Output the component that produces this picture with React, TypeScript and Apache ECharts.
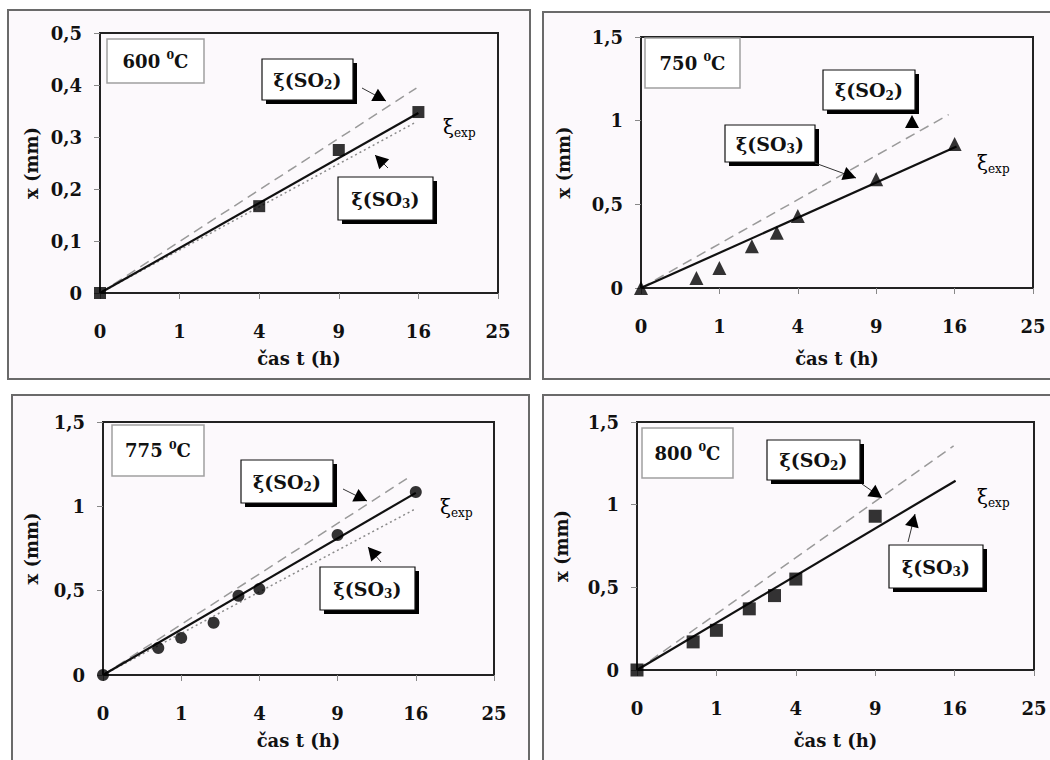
import React, { useEffect, useRef } from "react";
import * as echarts from "echarts";

// ---- data (time t in hours, thickness x in mm) ----
const tickT = [0, 1, 4, 9, 16, 25];

const t600 = [0, 4, 9, 16];
const x600 = [0, 0.167, 0.275, 0.348];
const t750 = [0, 0.5, 1, 2, 3, 4, 9, 16];
const x750 = [0, 0.06, 0.12, 0.25, 0.33, 0.43, 0.65, 0.86];
const t775 = [0, 0.5, 1, 2, 3, 4, 9, 16];
const x775 = [0, 0.16, 0.22, 0.31, 0.47, 0.51, 0.83, 1.085];
const t800 = [0, 0.5, 1, 2, 3, 4, 9];
const x800 = [0, 0.17, 0.24, 0.37, 0.45, 0.55, 0.93];

// model lines, endpoints [t, x]
const exp600 = [[0, 0], [16, 0.346]];
const so2_600 = [[0, 0], [15.8, 0.394]];
const so3_600 = [[0, 0], [15.8, 0.329]];
const exp750 = [[0, 0], [16.2, 0.845]];
const so2_750 = [[0, 0], [15.4, 1.036]];
const exp775 = [[0, 0], [16, 1.08]];
const so2_775 = [[0, 0], [15.1, 1.164]];
const so3_775 = [[0, 0], [16, 0.986]];
const exp800 = [[0, 0], [16.1, 1.145]];
const so2_800 = [[0, 0], [15.9, 1.355]];

const temps = ["600", "750", "775", "800"];

const FONT = "DejaVu Serif";

type Panel = {
  grid: { left: number; top: number; width: number; height: number };
  yMax: number;
  yInt: number;
  xGap: number;
  yGap: number;
  frame: number[];
  t: number[];
  x: number[];
  symbol: string;
  symbolSize: number;
  exp: number[][];
  so2: number[][];
  so3: number[][] | null;
  tempBox: number[];
  so2Box: number[];
  so3Box: number[];
  arrows: { tail: number[]; head: number[]; line: boolean }[];
  expPos: number[];
};

const panels: Panel[] = [
  {
    grid: { left: 100, top: 33, width: 398, height: 260 },
    yMax: 0.5, yInt: 0.1, xGap: 56, yGap: 60,
    frame: [8, 10, 522, 369],
    t: t600, x: x600, symbol: "rect", symbolSize: 12,
    exp: exp600, so2: so2_600, so3: so3_600,
    tempBox: [107, 39, 97, 44],
    so2Box: [262, 59, 91, 41],
    so3Box: [338, 177, 95, 43],
    arrows: [
      { tail: [362, 88], head: [386, 101], line: true },
      { tail: [388, 168], head: [375, 155], line: true },
    ],
    expPos: [443, 127],
  },
  {
    grid: { left: 641, top: 37, width: 392, height: 251 },
    yMax: 1.5, yInt: 0.5, xGap: 61, yGap: 69,
    frame: [543, 12, 520, 367],
    t: t750, x: x750, symbol: "triangle", symbolSize: 14,
    exp: exp750, so2: so2_750, so3: null,
    tempBox: [645, 38, 95, 50],
    so2Box: [823, 70, 92, 40],
    so3Box: [725, 125, 90, 37],
    arrows: [
      { tail: [912, 133], head: [912, 115], line: false },
      { tail: [815, 163], head: [856, 178], line: true },
    ],
    expPos: [977, 163],
  },
  {
    grid: { left: 103, top: 422, width: 391, height: 253 },
    yMax: 1.5, yInt: 0.5, xGap: 56, yGap: 63,
    frame: [12, 395, 517, 380],
    t: t775, x: x775, symbol: "circle", symbolSize: 12,
    exp: exp775, so2: so2_775, so3: so3_775,
    tempBox: [112, 425, 92, 51],
    so2Box: [241, 460, 92, 43],
    so3Box: [320, 567, 95, 43],
    arrows: [
      { tail: [343, 489], head: [367, 501], line: true },
      { tail: [381, 562], head: [368, 547], line: true },
    ],
    expPos: [440, 507],
  },
  {
    grid: { left: 637, top: 422, width: 397, height: 248 },
    yMax: 1.5, yInt: 0.5, xGap: 61, yGap: 67,
    frame: [543, 395, 520, 380],
    t: t800, x: x800, symbol: "rect", symbolSize: 13,
    exp: exp800, so2: so2_800, so3: null,
    tempBox: [642, 428, 91, 50],
    so2Box: [767, 440, 93, 40],
    so3Box: [889, 545, 94, 43],
    arrows: [
      { tail: [862, 484], head: [882, 498], line: true },
      { tail: [908, 542], head: [915, 514], line: true },
    ],
    expPos: [977, 497],
  },
];

const toXY = (pts: number[][]) => pts.map(([t, v]) => [Math.sqrt(t), v]);

const yFmt = (v: number) => String(+v.toFixed(2)).replace(".", ",");
const xFmt = (v: number) => String(Math.round(v * v));

function boxText(text: string, rich: any, cx: number, cy: number) {
  return {
    type: "text",
    x: cx,
    y: cy,
    z: 30,
    style: { text, rich, align: "center", verticalAlign: "middle", fill: "#111" },
  };
}

function arrowHead(tail: number[], head: number[]) {
  const dx = head[0] - tail[0];
  const dy = head[1] - tail[1];
  const len = Math.hypot(dx, dy) || 1;
  const ux = dx / len, uy = dy / len;
  const L = 13, W = 7;
  const bx = head[0] - ux * L, by = head[1] - uy * L;
  return [
    [head[0], head[1]],
    [bx - uy * W, by + ux * W],
    [bx + uy * W, by - ux * W],
  ];
}

export default function App() {
  const ref = useRef<HTMLDivElement>(null);
  useEffect(() => {
    if (!ref.current) return;
    const chart = echarts.init(ref.current, undefined, { renderer: "svg" });

    const grids: any[] = [];
    const xAxes: any[] = [];
    const yAxes: any[] = [];
    const series: any[] = [];
    const graphic: any[] = [];

    const subRich = {
      n: { fontFamily: FONT, fontSize: 19, fontWeight: "bold", lineHeight: 23, color: "#111" },
      s: { fontFamily: FONT, fontSize: 12, fontWeight: "bold", lineHeight: 14, verticalAlign: "bottom", color: "#111" },
    };
    const supRich = {
      n: { fontFamily: FONT, fontSize: 18, fontWeight: "bold", lineHeight: 22, color: "#111" },
      s: { fontFamily: FONT, fontSize: 11, fontWeight: "bold", lineHeight: 11, verticalAlign: "top", color: "#111" },
    };
    const expRich = {
      n: { fontFamily: FONT, fontSize: 20, lineHeight: 24, color: "#222" },
      s: { fontFamily: FONT, fontSize: 12, lineHeight: 14, verticalAlign: "bottom", color: "#222" },
    };

    panels.forEach((p, i) => {
      grids.push({ ...p.grid, show: true, borderColor: "#222", borderWidth: 2, backgroundColor: "transparent" });
      xAxes.push({
        type: "value", gridIndex: i, min: 0, max: 5, interval: 1,
        name: "čas t (h)", nameLocation: "middle", nameGap: p.xGap,
        nameTextStyle: { fontFamily: FONT, fontWeight: "bold", fontSize: 18, color: "#111" },
        axisLine: { show: true, lineStyle: { color: "#222", width: 2 } },
        axisTick: { show: true, length: 6, lineStyle: { color: "#888" } },
        splitLine: { show: false },
        axisLabel: { formatter: xFmt, margin: 29, fontFamily: FONT, fontWeight: "bold", fontSize: 18, color: "#111" },
      });
      yAxes.push({
        type: "value", gridIndex: i, min: 0, max: p.yMax, interval: p.yInt,
        name: "x (mm)", nameLocation: "middle", nameGap: p.yGap, nameRotate: 90,
        nameTextStyle: { fontFamily: FONT, fontWeight: "bold", fontSize: 18, color: "#111" },
        axisLine: { show: true, lineStyle: { color: "#222", width: 2 } },
        axisTick: { show: true, length: 6, lineStyle: { color: "#888" } },
        splitLine: { show: false },
        axisLabel: { formatter: yFmt, margin: 18, fontFamily: FONT, fontWeight: "bold", fontSize: 18, color: "#111" },
      });
      series.push({
        type: "line", xAxisIndex: i, yAxisIndex: i, data: toXY(p.so2), showSymbol: false, symbol: "none",
        lineStyle: { color: "#9a9a9a", width: 1.5, type: [10, 6] }, z: 2, silent: true,
      });
      if (p.so3) {
        series.push({
          type: "line", xAxisIndex: i, yAxisIndex: i, data: toXY(p.so3), showSymbol: false, symbol: "none",
          lineStyle: { color: "#8a8a8a", width: 1.5, type: [2, 3] }, z: 2, silent: true,
        });
      }
      series.push({
        type: "line", xAxisIndex: i, yAxisIndex: i, data: toXY(p.exp), showSymbol: false, symbol: "none",
        lineStyle: { color: "#111", width: 2.2 }, z: 3, silent: true,
      });
      series.push({
        type: "scatter", xAxisIndex: i, yAxisIndex: i,
        data: p.t.map((t, k) => [Math.sqrt(t), p.x[k]]),
        symbol: p.symbol, symbolSize: p.symbolSize,
        itemStyle: { color: "#000" }, z: 4, silent: true,
      });

      // frame
      const [fx, fy, fw, fh] = p.frame;
      graphic.push({
        type: "rect", z: -1, shape: { x: fx, y: fy, width: fw, height: fh },
        style: { fill: "#fcf9fc", stroke: "#6a6a6a", lineWidth: 2 },
      });
      // temperature box
      const [tx, ty, tw, th] = p.tempBox;
      graphic.push({
        type: "rect", z: 20, shape: { x: tx, y: ty, width: tw, height: th },
        style: { fill: "#ffffff", stroke: "#a0a0a0", lineWidth: 1.5 },
      });
      graphic.push(boxText(`{n|${temps[i]} }{s|0}{n|C}`, supRich, tx + tw / 2, ty + th / 2));
      // SO2 / SO3 boxes
      const boxes = [
        [p.so2Box, "2"],
        [p.so3Box, "3"],
      ] as const;
      boxes.forEach(([b, sub]) => {
        const [bx, by, bw, bh] = b as number[];
        graphic.push({
          type: "rect", z: 20, shape: { x: bx + 4, y: by + 4, width: bw, height: bh },
          style: { fill: "#000" },
        });
        graphic.push({
          type: "rect", z: 21, shape: { x: bx, y: by, width: bw, height: bh },
          style: { fill: "#ffffff", stroke: "#111", lineWidth: 1.2 },
        });
        graphic.push(boxText(`{n|ξ(SO}{s|${sub}}{n|)}`, subRich, bx + bw / 2, by + bh / 2));
      });
      // arrows
      p.arrows.forEach((a) => {
        if (a.line) {
          graphic.push({
            type: "line", z: 22,
            shape: { x1: a.tail[0], y1: a.tail[1], x2: a.head[0], y2: a.head[1] },
            style: { stroke: "#333", lineWidth: 1 },
          });
        }
        graphic.push({
          type: "polygon", z: 23,
          shape: { points: arrowHead(a.tail, a.head) },
          style: { fill: "#000" },
        });
      });
      // ξexp label
      graphic.push({
        type: "text", x: p.expPos[0], y: p.expPos[1], z: 30,
        style: { text: "{n|ξ}{s|exp}", rich: expRich, align: "left", verticalAlign: "middle" },
      });
    });

    chart.setOption({
      animation: false,
      backgroundColor: "#ffffff",
      grid: grids,
      xAxis: xAxes,
      yAxis: yAxes,
      series,
      graphic: { elements: graphic },
    });

    return () => chart.dispose();
  }, []);

  return (
    <div
      ref={ref}
      style={{ position: "absolute", left: 0, top: 0, width: 1050, height: 760 }}
    />
  );
}
